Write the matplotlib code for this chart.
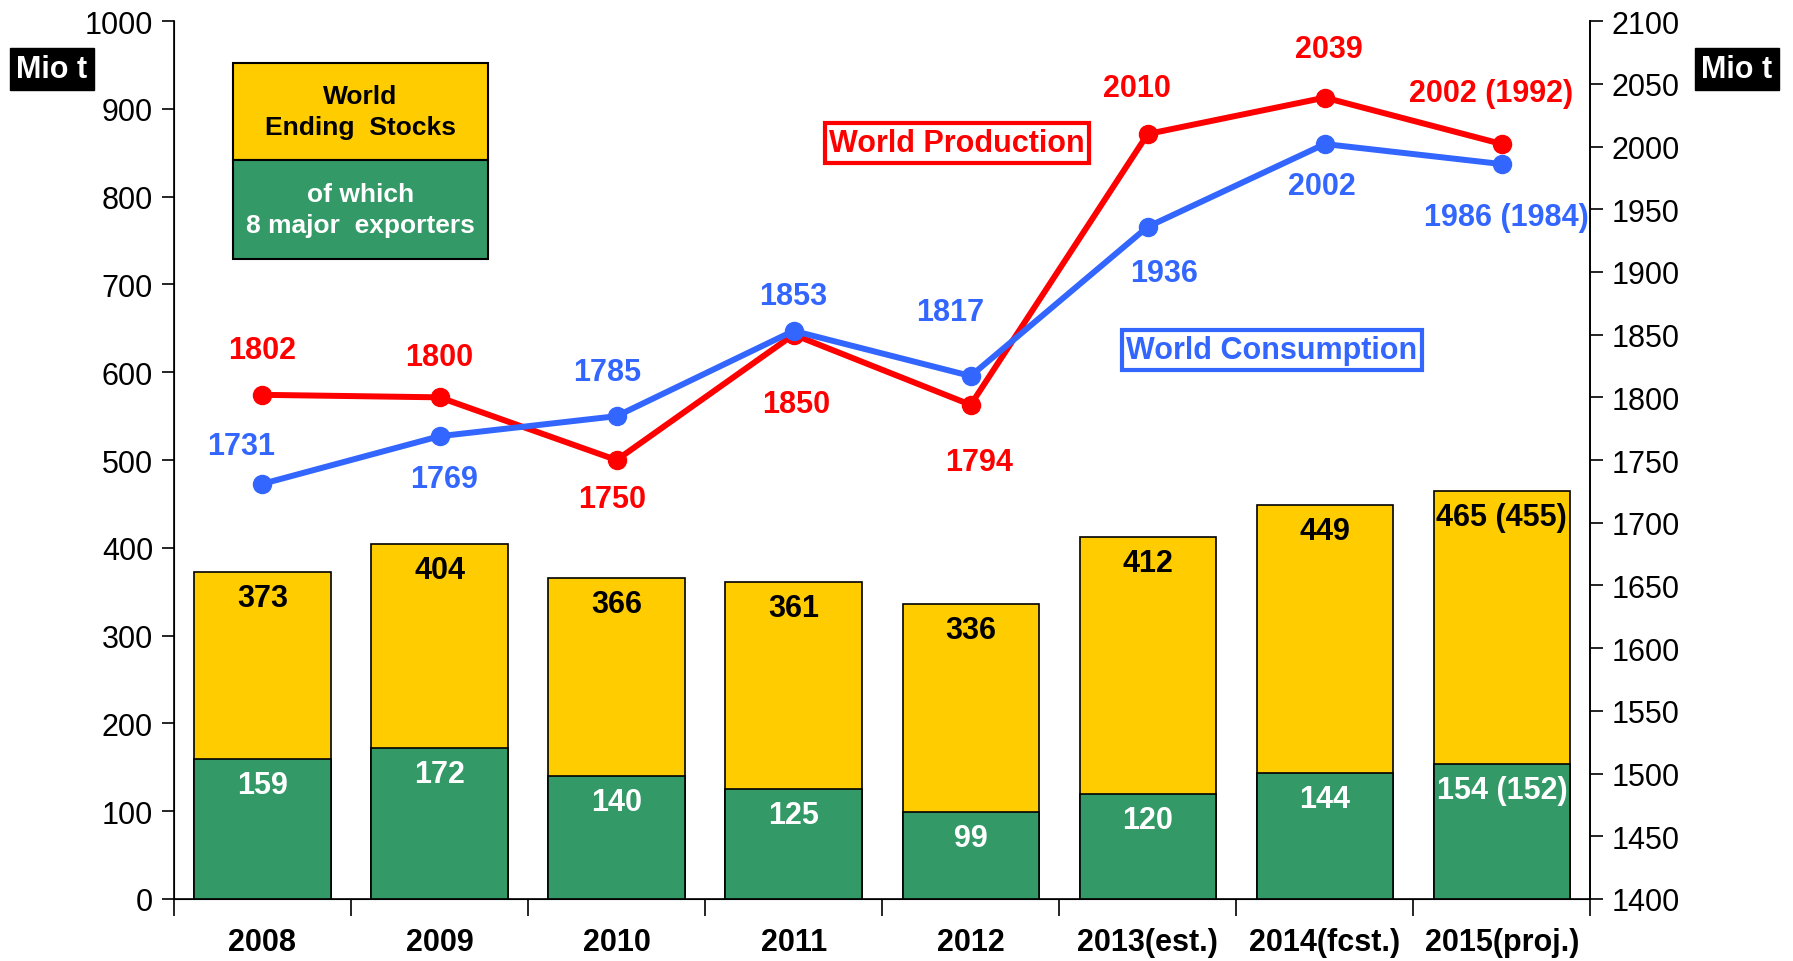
import matplotlib.pyplot as plt
from matplotlib.patches import Rectangle
import numpy as np

plt.rcParams['font.family'] = ['Liberation Sans Narrow', 'Liberation Sans', 'DejaVu Sans']

# data
years = ['2008', '2009', '2010', '2011', '2012', '2013(est.)', '2014(fcst.)', '2015(proj.)']
stocks_total = [373, 404, 366, 361, 336, 412, 449, 465]
stocks_major = [159, 172, 140, 125, 99, 120, 144, 154]
stocks_total_lbl = ['373', '404', '366', '361', '336', '412', '449', '465 (455)']
stocks_major_lbl = ['159', '172', '140', '125', '99', '120', '144', '154 (152)']
production = [1802, 1800, 1750, 1850, 1794, 2010, 2039, 2002]
consumption = [1731, 1769, 1785, 1853, 1817, 1936, 2002, 1986]
production_lbl = ['1802', '1800', '1750', '1850', '1794', '2010', '2039', '2002 (1992)']
consumption_lbl = ['1731', '1769', '1785', '1853', '1817', '1936', '2002', '1986 (1984)']

YELLOW = '#FFCC00'
GREEN = '#339966'
RED = '#FF0000'
BLUE = '#3366FF'

fig = plt.figure(figsize=(17.93, 9.62), dpi=100)
ax = fig.add_axes([0.097, 0.0645, 0.790, 0.9125])
x = np.arange(len(years))
w = 0.77

ax.bar(x, stocks_total, width=w, color=YELLOW, edgecolor='black', linewidth=1.2, zorder=2)
ax.bar(x, stocks_major, width=w, color=GREEN, edgecolor='black', linewidth=1.2, zorder=3)

for i in range(len(years)):
    ax.annotate(stocks_total_lbl[i], (x[i], stocks_total[i]), xytext=(0, -8), textcoords='offset points',
                ha='center', va='top', fontsize=22, fontweight='bold', color='black', zorder=5)
    ax.annotate(stocks_major_lbl[i], (x[i], stocks_major[i]), xytext=(0, -8), textcoords='offset points',
                ha='center', va='top', fontsize=22, fontweight='bold', color='white', zorder=5)

ax.set_xlim(-0.5, len(years) - 0.5)
ax.set_ylim(0, 1000)
ax.set_yticks(range(0, 1001, 100))
ax.set_xticks(np.arange(-0.5, len(years), 1.0))
ax.set_xticklabels([])
ax.set_xticks(x, minor=True)
ax.set_xticklabels(years, minor=True, fontsize=22, fontweight='bold')
ax.tick_params(axis='x', which='major', length=12, width=1.2)
ax.tick_params(axis='x', which='minor', length=0, pad=20)
ax.tick_params(axis='y', length=9, width=1.2, labelsize=22, pad=6)
ax.spines['top'].set_visible(False)
for s in ['left', 'bottom', 'right']:
    ax.spines[s].set_linewidth(1.2)

# lines on right axis
ax2 = ax.twinx()
ax2.set_ylim(1400, 2100)
ax2.set_yticks(range(1400, 2101, 50))
ax2.tick_params(axis='y', length=9, width=1.2, labelsize=22, pad=6)
ax2.spines['top'].set_visible(False)
ax2.spines['right'].set_linewidth(1.2)
ax2.plot(x, production, color=RED, lw=4.3, marker='o', ms=13, zorder=4)
ax2.plot(x, consumption, color=BLUE, lw=4.3, marker='o', ms=13, zorder=4)

prod_off = [(0, 32), (0, 29), (-3, -28), (2, -50), (6, -41), (-8, 33), (3, 35), (-8, 37)]
cons_off = [(-15, 27), (3, -31), (-7, 32), (0, 25), (-15, 46), (12, -33), (-2, -30), (3, -38)]
for i in range(len(years)):
    ax2.annotate(production_lbl[i], (x[i], production[i]), xytext=prod_off[i], textcoords='offset points',
                 ha='center', va='center', fontsize=22, fontweight='bold', color=RED)
    ax2.annotate(consumption_lbl[i], (x[i], consumption[i]), xytext=cons_off[i], textcoords='offset points',
                 ha='center', va='center', fontsize=22, fontweight='bold', color=BLUE)

fig.text(957 / 1793, 1 - 144 / 962, 'World Production', ha='center', va='center', fontsize=22,
         fontweight='bold', color=RED,
         bbox=dict(boxstyle='square,pad=0.15', fc='white', ec=RED, lw=3))
fig.text(1272 / 1793, 1 - 351 / 962, 'World Consumption', ha='center', va='center', fontsize=22,
         fontweight='bold', color=BLUE,
         bbox=dict(boxstyle='square,pad=0.15', fc='white', ec=BLUE, lw=3))

# legend boxes
fig.patches.append(Rectangle((0.130, 0.8326), 0.142, 0.1008, transform=fig.transFigure,
                             fc=YELLOW, ec='black', lw=1.5))
fig.patches.append(Rectangle((0.130, 0.7297), 0.142, 0.1029, transform=fig.transFigure,
                             fc=GREEN, ec='black', lw=1.5))
fig.text(0.201, 0.883, 'World\nEnding  Stocks', ha='center', va='center', fontsize=19,
         fontweight='bold', color='black', linespacing=1.35)
fig.text(0.201, 0.781, 'of which\n8 major  exporters', ha='center', va='center', fontsize=19,
         fontweight='bold', color='white', linespacing=1.35)

# unit boxes
for xc in [52 / 1793, 1737 / 1793]:
    fig.text(xc, 1 - 70 / 962, 'Mio t', ha='center', va='center', fontsize=22, fontweight='bold',
             color='white', bbox=dict(boxstyle='square,pad=0.2', fc='black', ec='black'))

fig.savefig('out.png', dpi=100)
